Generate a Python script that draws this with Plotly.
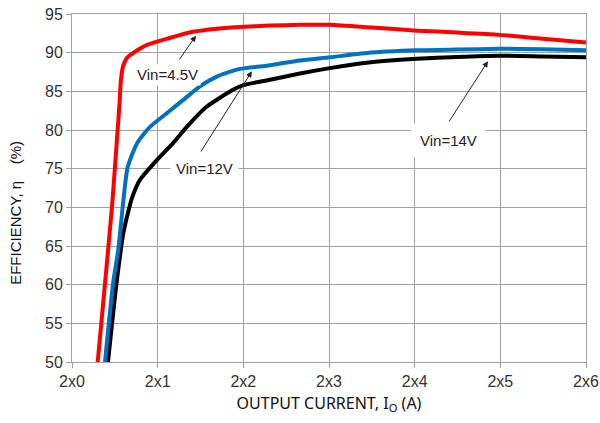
import plotly.graph_objects as go

# ---- data ----
tick_vals = [0, 1, 2, 3, 4, 5, 6]
tick_text = ["2x0", "2x1", "2x2", "2x3", "2x4", "2x5", "2x6"]

red_x = [0.30, 0.40, 0.47, 0.53, 0.555, 0.57, 0.595, 0.64, 0.72, 0.875, 1.14, 1.41, 1.69, 2.0, 2.30, 2.66, 3.01, 3.50, 4.03, 4.50, 4.99, 5.50, 6.0]
red_y = [50, 61.9, 70.5, 79.6, 83.5, 86.3, 88.2, 89.3, 90.0, 91.0, 91.9, 92.7, 93.1, 93.35, 93.5, 93.6, 93.6, 93.25, 92.85, 92.6, 92.3, 91.8, 91.3]

blue_x = [0.385, 0.48, 0.54, 0.60, 0.65, 0.76, 0.91, 1.11, 1.30, 1.49, 1.69, 1.96, 2.27, 2.66, 3.01, 3.44, 4.03, 4.50, 4.99, 5.50, 6.0]
blue_y = [50, 60.2, 64.5, 70.9, 75.2, 78.3, 80.4, 82.2, 83.9, 85.6, 86.9, 87.9, 88.3, 89.0, 89.4, 89.96, 90.3, 90.4, 90.5, 90.45, 90.3]

black_x = [0.42, 0.52, 0.60, 0.66, 0.70, 0.79, 0.99, 1.18, 1.34, 1.57, 1.88, 2.0, 2.27, 2.66, 3.01, 3.44, 4.03, 4.50, 4.99, 5.50, 6.0]
black_y = [50, 60.2, 66.7, 69.6, 71.2, 73.5, 76.1, 78.3, 80.4, 83.0, 85.2, 85.8, 86.4, 87.3, 88.0, 88.7, 89.2, 89.45, 89.6, 89.5, 89.4]

labels = ["Vin=4.5V", "Vin=12V", "Vin=14V"]
label_x = [1.11, 1.55, 4.40]
label_y = [87.2, 74.96, 78.7]
arrow_tail_x = [1.24, 1.494, 4.39]
arrow_tail_y = [88.9, 77.03, 80.9]
arrow_tip_x = [1.447, 2.10, 4.856]
arrow_tip_y = [92.2, 87.6, 88.9]

y_title = "EFFICIENCY, η    (%)"
x_title = "OUTPUT CURRENT, I<sub>O</sub> (A)"

GRID = "#a0a0a0"
TICKFONT = dict(family="Liberation Sans, Arial, sans-serif", size=16, color="#333333")

fig = go.Figure()
for xs, ys, col in [(black_x, black_y, "#000000"), (blue_x, blue_y, "#0070c0"), (red_x, red_y, "#ff0000")]:
    fig.add_trace(go.Scatter(x=xs, y=ys, mode="lines",
                             line=dict(color=col, width=4, shape="spline", smoothing=0.6),
                             showlegend=False, hoverinfo="skip"))

# arrows
for tx, ty, hx, hy in zip(arrow_tail_x, arrow_tail_y, arrow_tip_x, arrow_tip_y):
    fig.add_annotation(x=hx, y=hy, ax=tx, ay=ty, xref="x", yref="y", axref="x", ayref="y",
                       text="", showarrow=True, arrowhead=2, arrowsize=1.2, arrowwidth=1,
                       arrowcolor="#222222")

# labels with white boxes
pads = [2, 5, 8]
for t, lx, ly, p in zip(labels, label_x, label_y, pads):
    fig.add_annotation(x=lx, y=ly, xref="x", yref="y", text=t, showarrow=False,
                       bgcolor="white", borderpad=p,
                       font=dict(family="Liberation Sans, Arial, sans-serif", size=15, color="#222222"))

# y axis title (placed slightly below centre as in the reference)
fig.add_annotation(x=-0.11, y=0.43, xref="paper", yref="paper", text=y_title, showarrow=False,
                   textangle=-90, xanchor="center", yanchor="middle",
                   font=dict(family="Liberation Sans, Arial, sans-serif", size=15, color="#111111"))

fig.update_layout(
    width=600, height=423,
    margin=dict(l=72, r=14, t=14, b=61, autoexpand=False),
    plot_bgcolor="white", paper_bgcolor="white",
    xaxis=dict(range=[0, 6], tickvals=tick_vals, ticktext=tick_text, showgrid=True, automargin=False,
               gridcolor=GRID, gridwidth=1, zeroline=False, showline=True, linecolor=GRID,
               mirror=True, ticks="outside", ticklen=5, tickcolor=GRID, tickfont=TICKFONT,
               ticklabeloverflow="allow",
               title=dict(text=x_title, standoff=8,
                          font=dict(family="Noto Sans, Open Sans, sans-serif", size=16, color="#111111"))),
    yaxis=dict(range=[50, 95], dtick=5, showgrid=True, gridcolor=GRID, gridwidth=1, automargin=False,
               zeroline=False, showline=True, linecolor=GRID, mirror=True,
               ticks="outside", ticklen=5, tickcolor=GRID, tickfont=TICKFONT,
               ticklabeloverflow="allow"),
)

fig.write_html("out.html", config={"displayModeBar": False},
               post_script="document.body.style.margin='0';document.body.style.overflow='hidden';")
